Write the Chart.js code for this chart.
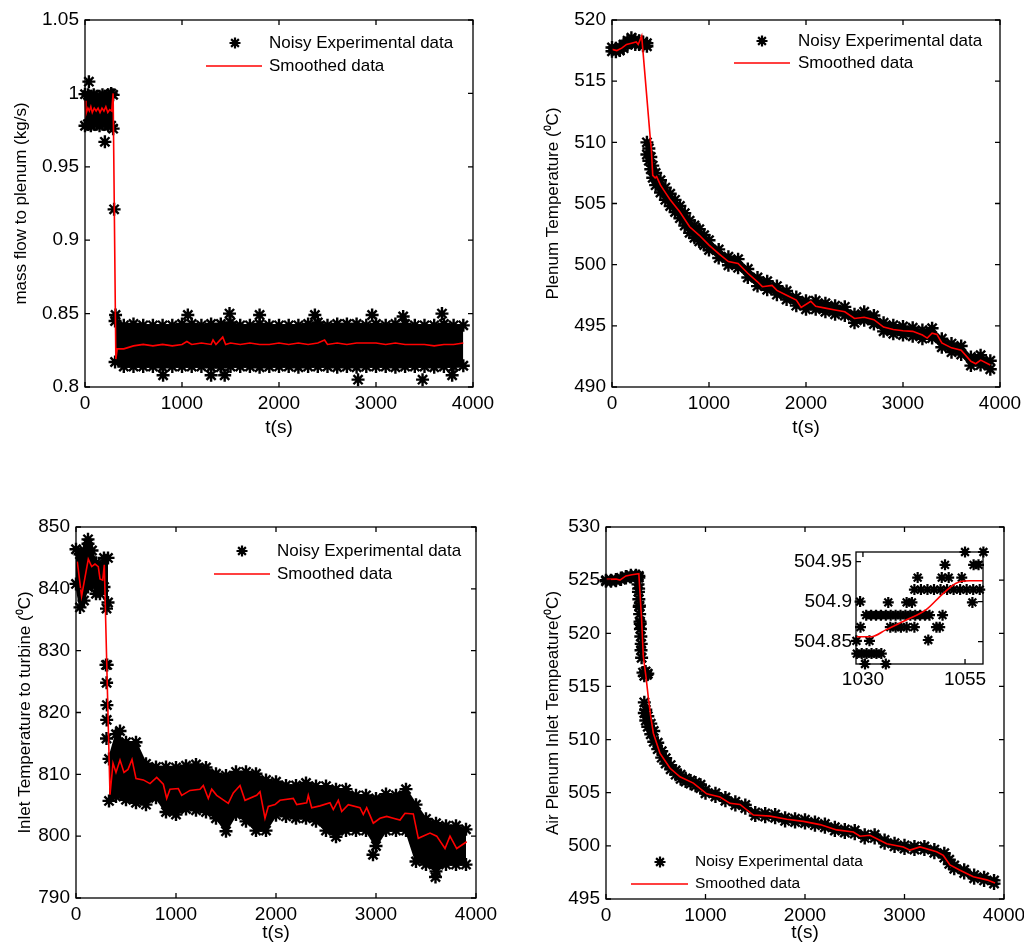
<!DOCTYPE html>
<html><head><meta charset="utf-8">
<script src="https://cdn.jsdelivr.net/npm/chart.js@4/dist/chart.umd.min.js"></script>
<style>
html,body{margin:0;padding:0;background:#fff;overflow:hidden;width:1024px;height:942px;}
canvas{position:absolute;left:0;top:0;}
</style></head><body>
<canvas id="c1" width="1100" height="942"></canvas>
<canvas id="c2" width="1100" height="942"></canvas>
<canvas id="c3" width="1100" height="942"></canvas>
<canvas id="c4" width="1100" height="942"></canvas>
<canvas id="c5" width="1100" height="942"></canvas>
<script>
// ---------- tick values & labels ----------
const xTicks = [0, 1000, 2000, 3000, 4000];
const tlYTicks = [0.8, 0.85, 0.9, 0.95, 1, 1.05];
const trYTicks = [490, 495, 500, 505, 510, 515, 520];
const blYTicks = [790, 800, 810, 820, 830, 840, 850];
const brYTicks = [495, 500, 505, 510, 515, 520, 525, 530];
const inXTicks = [1030, 1055];
const inYTicks = [504.85, 504.9, 504.95];
const legendLabels = ['Noisy Experimental data', 'Smoothed data'];
const yTitles = ['mass flow to plenum (kg/s)', 'Plenum Temperature (\u2070C)', 'Inlet Temperature to turbine (\u2070C)', 'Air Plenum Inlet Tempeature(\u2070C)'];
const xTitle = 't(s)';

// ---------- top-left: mass flow ----------
const tlPreT  = [0, 30, 60, 90, 120, 150, 180, 210, 240, 270, 290];
const tlPreHi = [0.9995, 0.999, 0.998, 0.999, 0.998, 0.998, 0.999, 0.998, 0.999, 1.0, 0.999];
const tlPreLo = [0.978, 0.979, 0.978, 0.979, 0.979, 0.978, 0.979, 0.979, 0.978, 0.978, 0.976];
const tlBandT  = [310, 400, 500, 600, 700, 800, 900, 1000, 1100, 1200, 1300, 1400, 1500, 1600, 1700, 1800, 1900, 2000, 2100, 2200, 2300, 2400, 2500, 2600, 2700, 2800, 2900, 3000, 3100, 3200, 3300, 3400, 3500, 3600, 3700, 3800, 3900];
const tlBandHi = [0.845, 0.842, 0.843, 0.842, 0.842, 0.842, 0.842, 0.843, 0.843, 0.842, 0.843, 0.843, 0.844, 0.842, 0.842, 0.843, 0.842, 0.842, 0.842, 0.842, 0.843, 0.844, 0.842, 0.843, 0.843, 0.843, 0.842, 0.843, 0.842, 0.843, 0.843, 0.842, 0.842, 0.842, 0.843, 0.842, 0.842];
const tlBandLo = [0.817, 0.814, 0.814, 0.814, 0.814, 0.8135, 0.814, 0.814, 0.814, 0.814, 0.8135, 0.8135, 0.814, 0.814, 0.814, 0.8135, 0.814, 0.814, 0.814, 0.8135, 0.814, 0.814, 0.814, 0.8135, 0.814, 0.8135, 0.814, 0.814, 0.814, 0.8135, 0.814, 0.814, 0.814, 0.8135, 0.814, 0.814, 0.8145];
const tlOutT = [40, 205, 300, 315, 1060, 1490, 1800, 2370, 2960, 3280, 3680, 805, 1300, 1440, 2815, 3480, 3785];
const tlOutV = [1.008, 0.967, 0.921, 0.849, 0.849, 0.850, 0.849, 0.849, 0.849, 0.848, 0.850, 0.808, 0.808, 0.808, 0.805, 0.805, 0.808];
const tlSmT = [0, 10, 30, 45, 60, 75, 95, 115, 135, 155, 175, 195, 215, 235, 255, 275, 290, 318, 332, 400, 500, 600, 700, 800, 900, 1000, 1050, 1100, 1200, 1300, 1320, 1350, 1420, 1450, 1500, 1600, 1700, 1800, 1900, 2000, 2100, 2200, 2300, 2400, 2470, 2500, 2600, 2700, 2800, 2900, 3000, 3100, 3200, 3300, 3400, 3500, 3600, 3700, 3800, 3900];
const tlSmV = [0.995, 0.986, 0.990, 0.988, 0.991, 0.987, 0.990, 0.988, 0.990, 0.987, 0.990, 0.988, 0.991, 0.987, 0.989, 0.988, 1.000, 0.819, 0.826, 0.826, 0.828, 0.829, 0.828, 0.829, 0.828, 0.829, 0.831, 0.829, 0.830, 0.829, 0.832, 0.829, 0.834, 0.829, 0.830, 0.829, 0.830, 0.829, 0.829, 0.830, 0.829, 0.830, 0.829, 0.830, 0.832, 0.829, 0.830, 0.829, 0.830, 0.830, 0.830, 0.829, 0.830, 0.829, 0.829, 0.829, 0.828, 0.829, 0.829, 0.830];

// ---------- top-right: plenum temperature ----------
const trPreT  = [0, 40, 80, 120, 160, 200, 240, 280, 320, 360];
const trPreHi = [517.75, 517.7, 517.8, 518.0, 518.3, 518.55, 518.4, 518.3, 518.2, 518.1];
const trPreLo = [517.45, 517.4, 517.5, 517.7, 518.0, 518.15, 518.0, 518.0, 517.9, 517.85];
const trBandT  = [360, 380, 400, 420, 450, 500, 550, 600, 650, 700, 750, 800, 850, 900, 950, 1000, 1100, 1200, 1300, 1400, 1500, 1600, 1700, 1800, 1900, 2000, 2100, 2200, 2300, 2400, 2500, 2600, 2700, 2800, 2900, 3000, 3100, 3200, 3300, 3400, 3500, 3600, 3700, 3800, 3900];
const trBandHi = [510.0, 509.5, 508.8, 508.1, 507.5, 506.9, 506.3, 505.8, 505.3, 504.8, 504.2, 503.6, 503.2, 502.9, 502.4, 502.0, 501.25, 500.65, 500.45, 499.65, 498.95, 498.65, 498.25, 497.85, 497.35, 497.05, 497.05, 496.85, 496.65, 496.55, 495.95, 496.15, 495.85, 495.25, 495.05, 494.95, 494.85, 494.65, 494.8, 493.95, 493.55, 493.35, 492.45, 492.6, 492.15];
const trBandLo = [509.0, 508.5, 507.8, 507.1, 506.5, 505.9, 505.3, 504.8, 504.3, 503.8, 503.2, 502.6, 502.2, 501.9, 501.6, 501.2, 500.55, 499.95, 499.75, 498.95, 498.25, 497.95, 497.55, 497.15, 496.65, 496.35, 496.35, 496.15, 495.95, 495.85, 495.25, 495.45, 495.15, 494.55, 494.35, 494.25, 494.15, 493.95, 494.0, 493.25, 492.85, 492.65, 491.75, 491.8, 491.45];
const trSmT = [0, 50, 100, 150, 200, 250, 270, 306, 398, 405, 420, 445, 460, 500, 600, 700, 800, 900, 1000, 1100, 1200, 1300, 1400, 1500, 1550, 1650, 1700, 1800, 1900, 1950, 2050, 2100, 2200, 2300, 2400, 2500, 2600, 2700, 2800, 2900, 3000, 3100, 3200, 3250, 3300, 3350, 3400, 3500, 3600, 3700, 3750, 3800, 3900];
const trSmV = [517.6, 517.5, 517.7, 518.0, 518.1, 518.2, 518.0, 518.7, 510.0, 509.5, 507.3, 507.1, 507.2, 506.5, 505.3, 504.3, 503.1, 502.4, 501.6, 500.9, 500.25, 500.1, 499.3, 498.6, 498.2, 498.3, 497.9, 497.5, 497.1, 496.5, 497.0, 496.6, 496.45, 496.3, 496.15, 495.6, 495.7, 495.5, 494.9, 494.7, 494.6, 494.55, 494.25, 494.0, 494.4, 494.3, 493.6, 493.2, 493.0, 492.1, 491.9, 492.2, 491.8];

// ---------- bottom-left: inlet temperature to turbine ----------
const blPreT  = [0, 40, 80, 120, 160, 200, 240, 280, 320];
const blPreHi = [846.4, 845.6, 846.2, 847.3, 846.2, 844.2, 843.5, 845.0, 845.0];
const blPreLo = [840.8, 837.0, 838.1, 840.3, 841.0, 839.2, 839.2, 840.3, 837.8];
const blBandT  = [330, 400, 500, 600, 700, 800, 900, 1000, 1100, 1200, 1300, 1400, 1500, 1600, 1700, 1800, 1900, 2000, 2100, 2200, 2300, 2400, 2500, 2600, 2700, 2800, 2900, 3000, 3100, 3200, 3300, 3400, 3500, 3600, 3700, 3800, 3900];
const blBandHi = [812.5, 816.5, 815.2, 815.2, 811.7, 811.2, 811.2, 811.1, 811.4, 811.6, 811.1, 810.1, 809.8, 810.4, 810.4, 810.1, 809.1, 808.8, 808.2, 808.2, 808.6, 808.1, 808.1, 807.6, 807.6, 806.6, 806.6, 806.1, 806.8, 806.6, 807.6, 805.1, 802.8, 802.1, 801.7, 801.7, 801.1];
const blBandLo = [805.7, 806.4, 805.9, 805.4, 805.1, 806.2, 803.9, 803.5, 804.4, 804.2, 803.9, 802.9, 800.8, 803.5, 802.4, 800.9, 800.9, 803.4, 803.2, 802.9, 802.9, 802.4, 800.9, 799.9, 800.9, 800.9, 800.9, 798.4, 800.9, 800.9, 800.9, 795.9, 795.4, 794.3, 795.4, 795.4, 795.4];
const blOutT = [305, 300, 312, 306, 309, 307, 305, 2970, 3595, 120, 440];
const blOutV = [836.8, 827.7, 827.7, 824.8, 821.2, 818.8, 815.8, 797.0, 793.4, 848.0, 817.0];
const blSmT = [13, 56, 123, 157, 190, 223, 240, 267, 283, 340, 370, 400, 440, 480, 520, 560, 600, 673, 740, 807, 873, 907, 940, 1023, 1057, 1140, 1240, 1273, 1323, 1357, 1407, 1523, 1573, 1640, 1690, 1807, 1840, 1890, 1923, 1990, 2040, 2173, 2207, 2307, 2323, 2357, 2440, 2540, 2573, 2623, 2657, 2723, 2840, 2873, 2907, 2973, 3040, 3107, 3173, 3240, 3290, 3373, 3423, 3540, 3607, 3690, 3740, 3807, 3907];
const blSmV = [844.4, 838.8, 844.8, 843.6, 844.0, 843.6, 841.6, 841.4, 843.9, 806.7, 811.8, 810.3, 812.3, 810.3, 810.8, 812.4, 809.3, 809.1, 808.5, 809.5, 808.4, 806.1, 807.6, 807.7, 806.6, 807.4, 807.6, 808.2, 806.1, 807.6, 806.6, 805.3, 807.0, 808.2, 805.8, 806.6, 807.2, 802.9, 804.8, 805.1, 805.8, 806.1, 805.1, 805.4, 806.6, 804.6, 804.9, 805.4, 804.3, 805.8, 804.0, 805.1, 804.6, 803.5, 804.6, 802.1, 802.9, 803.2, 802.9, 802.6, 803.7, 803.6, 799.65, 800.5, 800.0, 798.0, 800.0, 798.0, 799.1];

// ---------- bottom-right: air plenum inlet temperature ----------
const brPreT  = [0, 50, 100, 150, 200, 250, 300, 330];
const brPreHi = [525.0, 525.0, 525.05, 525.2, 525.35, 525.45, 525.45, 525.4];
const brPreLo = [524.9, 524.9, 524.95, 525.05, 525.2, 525.3, 525.3, 525.25];
const brTrT = [318, 322, 326, 330, 334, 338, 342, 346, 350, 354, 328, 336, 344, 352, 358, 372, 385, 398, 412, 420];
const brTrV = [525.3, 524.6, 523.9, 523.2, 522.5, 521.8, 521.1, 520.4, 519.7, 519.0, 524.2, 522.6, 520.9, 518.4, 517.7, 516.3, 516.0, 516.4, 516.1, 516.2];
const brBandT  = [385, 400, 420, 450, 480, 520, 560, 600, 650, 700, 750, 800, 850, 900, 950, 1000, 1100, 1200, 1300, 1400, 1500, 1600, 1700, 1800, 1900, 2000, 2100, 2200, 2300, 2400, 2500, 2600, 2700, 2800, 2900, 3000, 3100, 3200, 3300, 3400, 3450, 3500, 3600, 3700, 3800, 3900];
const brBandHi = [513.5, 512.8, 512.2, 511.5, 510.8, 509.7, 508.9, 508.25, 507.6, 507.1, 506.7, 506.35, 506.15, 505.95, 505.75, 505.25, 504.95, 504.55, 504.15, 503.85, 503.15, 503.05, 502.95, 502.65, 502.55, 502.45, 502.25, 502.05, 501.75, 501.55, 501.45, 501.05, 501.05, 500.55, 500.25, 500.05, 499.95, 499.95, 499.65, 499.3, 498.7, 498.15, 497.75, 497.25, 497.05, 496.75];
const brBandLo = [512.5, 511.8, 511.2, 510.5, 509.8, 509.1, 508.3, 507.75, 507.2, 506.7, 506.3, 506.05, 505.85, 505.65, 505.45, 504.95, 504.65, 504.25, 503.85, 503.55, 502.85, 502.75, 502.65, 502.35, 502.25, 502.15, 501.95, 501.75, 501.45, 501.25, 501.15, 500.75, 500.75, 500.25, 499.95, 499.75, 499.65, 499.65, 499.35, 498.9, 498.3, 497.85, 497.45, 496.95, 496.75, 496.45];
const brSmT = [0, 100, 140, 200, 260, 330, 358, 375, 402, 425, 449, 476, 543, 644, 744, 878, 1012, 1146, 1246, 1347, 1481, 1649, 1817, 1984, 2151, 2318, 2486, 2553, 2653, 2821, 2988, 3055, 3156, 3323, 3390, 3457, 3558, 3692, 3826, 3910];
const brSmV = [525.07, 525.1, 525.0, 525.4, 525.5, 525.6, 521.3, 517.8, 515.9, 514.0, 512.2, 510.6, 508.7, 507.3, 506.5, 505.9, 504.9, 504.6, 504.0, 503.9, 502.9, 502.8, 502.5, 502.3, 502.0, 501.5, 501.3, 500.9, 501.0, 500.2, 499.9, 499.6, 499.9, 499.45, 499.1, 498.2, 497.7, 497.1, 496.8, 496.5];

// ---------- inset: zoom 1030-1055 s ----------
const inT = [1029.3, 1029.4, 1028.4, 1031.6, 1028.5, 1029.7, 1030.9, 1032.1, 1033.3, 1034.5, 1030.5, 1035.6, 1030.8, 1032.0, 1033.2, 1034.4, 1035.6, 1036.8, 1038.0, 1039.2, 1040.4, 1041.6, 1042.8, 1044.0, 1045.2, 1046.3, 1036.2, 1040.7, 1042.0, 1036.7, 1038.0, 1039.3, 1040.7, 1042.6, 1048.0, 1048.8, 1046.0, 1049.5, 1043.4, 1042.6, 1044.2, 1045.8, 1047.4, 1049.0, 1050.6, 1052.2, 1053.8, 1055.4, 1057.0, 1058.6, 1049.3, 1051.0, 1054.2, 1050.1, 1057.1, 1058.3, 1055.0, 1059.5, 1056.8];
const inV = [504.900, 504.868, 504.851, 504.851, 504.835, 504.835, 504.835, 504.835, 504.835, 504.835, 504.822, 504.822, 504.883, 504.883, 504.883, 504.883, 504.883, 504.883, 504.883, 504.883, 504.883, 504.883, 504.883, 504.883, 504.883, 504.883, 504.899, 504.899, 504.899, 504.868, 504.868, 504.868, 504.868, 504.868, 504.868, 504.868, 504.852, 504.883, 504.930, 504.915, 504.915, 504.915, 504.915, 504.915, 504.915, 504.915, 504.915, 504.915, 504.915, 504.915, 504.930, 504.930, 504.930, 504.946, 504.946, 504.946, 504.962, 504.962, 504.899];
const inSmT = [1028.4, 1032.0, 1035.7, 1040.6, 1045.5, 1049.6, 1052.8, 1056.1, 1059.4];
const inSmV = [504.856, 504.856, 504.865, 504.877, 504.890, 504.910, 504.923, 504.926, 504.926];

// ---------- rendering ----------
const CW = 1100, CH = 942;
Chart.defaults.font.family = '"Liberation Sans", Arial, Helvetica, sans-serif';
Chart.defaults.color = '#000';

const pts = (t, v) => t.map((x, i) => ({x: x, y: v[i]}));
const STAR = {pointStyle: 'star', pointRadius: 6.5, pointHoverRadius: 6.5, pointBorderWidth: 2.4, pointBorderColor: '#000', pointBackgroundColor: '#000'};
const STAR_SMALL = {pointStyle: 'star', pointRadius: 5.5, pointHoverRadius: 5.5, pointBorderWidth: 2.2, pointBorderColor: '#000', pointBackgroundColor: '#000'};
function bandSets(t, hi, lo) {
  return [
    Object.assign({data: pts(t, hi), showLine: true, borderColor: '#000', borderWidth: 2, backgroundColor: '#000', fill: '+1', clip: false}, STAR),
    Object.assign({data: pts(t, lo), showLine: true, borderColor: '#000', borderWidth: 2, backgroundColor: '#000', fill: false, clip: false}, STAR)
  ];
}
function starSet(t, v, style) { return Object.assign({data: pts(t, v), showLine: false, fill: false, clip: false}, style || STAR); }
function smoothSet(t, v, cubic) {
  return {data: pts(t, v), showLine: true, borderColor: '#ff0000', borderWidth: 1.6, pointRadius: 0, fill: false,
          cubicInterpolationMode: cubic ? 'monotone' : 'default', tension: 0, clip: false};
}

const boxTicks = {
  id: 'boxTicks',
  afterDatasetsDraw(chart, args, o) {
    const {ctx, chartArea: a, scales: {x, y}} = chart;
    const len = 5;
    ctx.save();
    ctx.strokeStyle = '#000';
    ctx.lineWidth = 1.3;
    ctx.strokeRect(a.left, a.top, a.right - a.left, a.bottom - a.top);
    ctx.beginPath();
    x.ticks.forEach(t => {
      const p = x.getPixelForValue(t.value);
      ctx.moveTo(p, a.bottom); ctx.lineTo(p, a.bottom - len);
      ctx.moveTo(p, a.top); ctx.lineTo(p, a.top + len);
    });
    y.ticks.forEach(t => {
      const p = y.getPixelForValue(t.value);
      ctx.moveTo(a.left, p); ctx.lineTo(a.left + len, p);
      ctx.moveTo(a.right, p); ctx.lineTo(a.right - len, p);
    });
    ctx.stroke();
    ctx.restore();
  }
};

const mlLegend = {
  id: 'mlLegend',
  afterDraw(chart, args, o) {
    if (!o || !o.show) return;
    const ctx = chart.ctx;
    ctx.save();
    ctx.font = o.size + 'px "Liberation Sans", Arial, sans-serif';
    ctx.fillStyle = '#000';
    ctx.textBaseline = 'middle';
    ctx.textAlign = 'left';
    ctx.strokeStyle = '#000';
    ctx.lineWidth = 2.2;
    const r = 5.5;
    ctx.beginPath();
    for (let k = 0; k < 4; k++) {
      const ang = k * Math.PI / 4;
      ctx.moveTo(o.starX - r * Math.cos(ang), o.y1 - r * Math.sin(ang));
      ctx.lineTo(o.starX + r * Math.cos(ang), o.y1 + r * Math.sin(ang));
    }
    ctx.stroke();
    ctx.fillText(legendLabels[0], o.textX, o.y1);
    ctx.strokeStyle = '#ff0000';
    ctx.lineWidth = 1.6;
    ctx.beginPath();
    ctx.moveTo(o.lineX1, o.y2); ctx.lineTo(o.lineX2, o.y2);
    ctx.stroke();
    ctx.fillText(legendLabels[1], o.textX, o.y2);
    ctx.restore();
  }
};

function makeChart(id, g, datasets, xr, yr, xt, yt, yTitleText, legend) {
  const xBottom = g.xTitleY ? Math.min(CH, g.xTitleY + 9.55) : g.B + 30;
  const xH = xBottom - g.B;
  return new Chart(document.getElementById(id), {
    type: 'line',
    data: {datasets: datasets},
    options: {
      responsive: false, animation: false, devicePixelRatio: 1, events: [],
      layout: {autoPadding: false, padding: {left: 0, top: g.T, right: CW - g.R, bottom: CH - xBottom}},
      plugins: {legend: {display: false}, tooltip: {enabled: false}, mlLegend: legend || {show: false}},
      scales: {
        x: {
          type: 'linear', position: 'bottom', min: xr[0], max: xr[1],
          afterBuildTicks: s => { s.ticks = xt.map(v => ({value: v})); },
          afterFit: s => { s.height = xH; },
          grid: {display: false, drawTicks: false}, border: {display: false},
          ticks: {padding: g.xPad, font: {size: 19}, color: '#000', callback: v => String(v), maxRotation: 0, autoSkip: false},
          title: g.xTitleY ? {display: true, text: xTitle, color: '#000', font: {size: 19, lineHeight: 0.9},
                              padding: {top: 0, bottom: xBottom - g.xTitleY - 8.55}} : {display: false}
        },
        y: {
          type: 'linear', position: 'left', min: yr[0], max: yr[1],
          afterBuildTicks: s => { s.ticks = yt.map(v => ({value: v})); },
          afterFit: s => { s.width = g.L; },
          grid: {display: false, drawTicks: false}, border: {display: false},
          ticks: {padding: g.yPad, font: {size: 19}, color: '#000', callback: v => String(v), autoSkip: false},
          title: yTitleText ? {display: true, text: yTitleText, color: '#000', font: {size: 17},
                               padding: {top: g.yTitleX - 10.2, bottom: 0}} : {display: false}
        }
      }
    },
    plugins: [boxTicks, mlLegend]
  });
}

// top-left
makeChart('c1', {L: 85, R: 473, T: 20, B: 387, yTitleX: 21, xTitleY: 428, xPad: 5, yPad: 6},
  [smoothSet(tlSmT, tlSmV), starSet(tlOutT, tlOutV)]
    .concat(bandSets(tlPreT, tlPreHi, tlPreLo)).concat(bandSets(tlBandT, tlBandHi, tlBandLo)),
  [0, 4000], [0.8, 1.05], xTicks, tlYTicks, yTitles[0],
  {show: true, size: 17, textX: 269, starX: 235, y1: 43, lineX1: 206, lineX2: 262, y2: 66});

// top-right
makeChart('c2', {L: 612, R: 1000, T: 20, B: 387, yTitleX: 553, xTitleY: 428, xPad: 5, yPad: 6},
  [smoothSet(trSmT, trSmV)]
    .concat(bandSets(trPreT, trPreHi, trPreLo)).concat(bandSets(trBandT, trBandHi, trBandLo)),
  [0, 4000], [490, 520], xTicks, trYTicks, yTitles[1],
  {show: true, size: 17, textX: 798, starX: 762, y1: 41, lineX1: 734, lineX2: 790, y2: 63});

// bottom-left
makeChart('c3', {L: 76, R: 476, T: 527, B: 898, yTitleX: 25, xTitleY: 933, xPad: 5, yPad: 6},
  [smoothSet(blSmT, blSmV), starSet(blOutT, blOutV)]
    .concat(bandSets(blPreT, blPreHi, blPreLo)).concat(bandSets(blBandT, blBandHi, blBandLo)),
  [0, 4000], [790, 850], xTicks, blYTicks, yTitles[2],
  {show: true, size: 17, textX: 277, starX: 242, y1: 551, lineX1: 214, lineX2: 270, y2: 574});

// bottom-right
makeChart('c4', {L: 606, R: 1004, T: 527, B: 899, yTitleX: 553, xTitleY: 933, xPad: 5, yPad: 6},
  [smoothSet(brSmT, brSmV), starSet(brTrT, brTrV)]
    .concat(bandSets(brPreT, brPreHi, brPreLo)).concat(bandSets(brBandT, brBandHi, brBandLo)),
  [0, 4000], [495, 530], xTicks, brYTicks, yTitles[3],
  {show: true, size: 15.5, textX: 695, starX: 660, y1: 862, lineX1: 631, lineX2: 688, y2: 884});

// inset
makeChart('c5', {L: 856, R: 983, T: 552, B: 664, xPad: 4.6, yPad: 4},
  [smoothSet(inSmT, inSmV, true), starSet(inT, inV, STAR_SMALL)],
  [1028.3, 1059.4], [504.822, 504.962], inXTicks, inYTicks, null, null);
</script>
</body></html>
